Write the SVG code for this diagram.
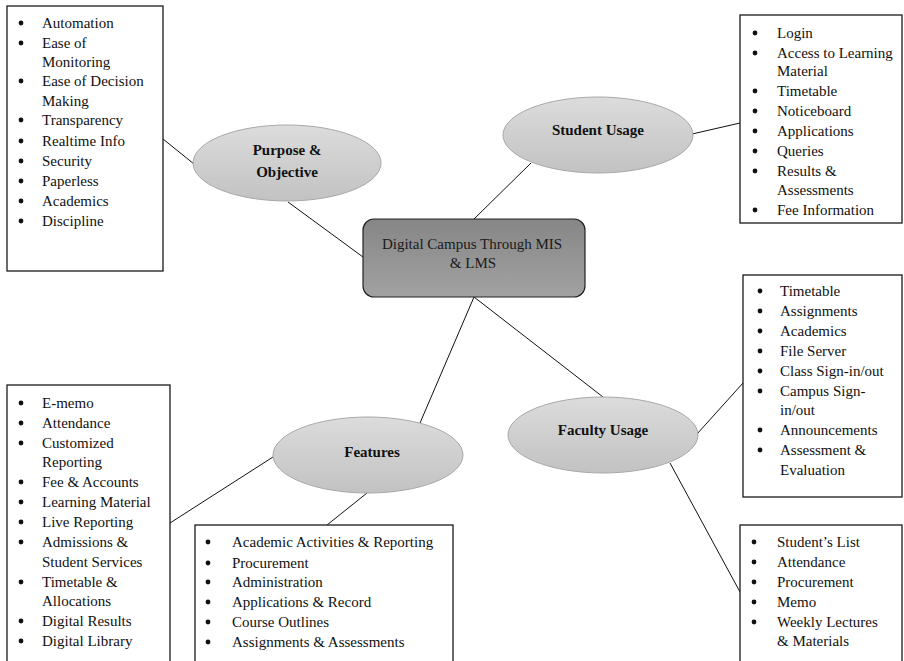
<svg xmlns="http://www.w3.org/2000/svg" width="904" height="661" viewBox="0 0 904 661">
<defs>
<linearGradient id="gEll" x1="0" y1="0" x2="0" y2="1">
<stop offset="0" stop-color="#dcdcdc"/>
<stop offset="1" stop-color="#c2c2c2"/>
</linearGradient>
<linearGradient id="gCen" x1="0" y1="0" x2="0" y2="1">
<stop offset="0" stop-color="#868686"/>
<stop offset="1" stop-color="#a2a2a2"/>
</linearGradient>
</defs>
<style>
.box{fill:#fff;stroke:#1a1a1a;stroke-width:1.3}
.ell{fill:url(#gEll);stroke:#a8a8a8;stroke-width:1}
.cen{fill:url(#gCen);stroke:#222;stroke-width:1.2}
.t{font-family:"Liberation Serif","Times New Roman",serif;font-size:15px;fill:#111}
.bu circle{fill:#111}
.b{font-family:"Liberation Serif","Times New Roman",serif;font-size:15px;font-weight:bold;fill:#111;text-anchor:middle}
.c{font-family:"Liberation Serif","Times New Roman",serif;font-size:15px;fill:#1a1a1a;text-anchor:middle}
.con{stroke:#111;stroke-width:1;fill:none}
</style>
<rect width="904" height="661" fill="#fff"/>
<g id="connectors">
<line class="con" x1="163" y1="139" x2="194" y2="164"/>
<line class="con" x1="288" y1="202" x2="363" y2="257"/>
<line class="con" x1="474" y1="219" x2="531" y2="163"/>
<line class="con" x1="692" y1="134" x2="740" y2="123"/>
<line class="con" x1="474" y1="297" x2="420" y2="423"/>
<line class="con" x1="474" y1="297" x2="603" y2="397"/>
<line class="con" x1="697" y1="434" x2="743" y2="383"/>
<line class="con" x1="670" y1="463" x2="740" y2="592"/>
<line class="con" x1="170" y1="523" x2="273" y2="457"/>
<line class="con" x1="367" y1="493" x2="327" y2="525"/>
</g>
<g id="center">
<rect class="cen" x="363" y="219" width="222" height="78" rx="11"/>
<text class="c" x="472" y="249">Digital Campus Through MIS</text>
<text class="c" x="473" y="268">&amp; LMS</text>
</g>
<g id="purpose">
<ellipse class="ell" cx="287" cy="163" rx="94" ry="38"/>
<text class="b" x="287" y="155">Purpose &amp;</text>
<text class="b" x="287" y="177">Objective</text>
</g>
<g id="student">
<ellipse class="ell" cx="598" cy="135" rx="95" ry="38"/>
<text class="b" x="598" y="135">Student Usage</text>
</g>
<g id="faculty">
<ellipse class="ell" cx="603" cy="435" rx="95" ry="38"/>
<text class="b" x="603" y="435">Faculty Usage</text>
</g>
<g id="features">
<ellipse class="ell" cx="368" cy="455" rx="95" ry="38"/>
<text class="b" x="372" y="457">Features</text>
</g>
<g id="purpose-list">
<rect class="box" x="7" y="6" width="156" height="265"/>
<g class="bu">
<circle cx="21" cy="23" r="2.4"/><circle cx="21" cy="43" r="2.4"/><circle cx="21" cy="81" r="2.4"/><circle cx="21" cy="120" r="2.4"/><circle cx="21" cy="141" r="2.4"/><circle cx="21" cy="161" r="2.4"/><circle cx="21" cy="181" r="2.4"/><circle cx="21" cy="201" r="2.4"/><circle cx="21" cy="221" r="2.4"/>
</g>
<g class="t">
<text x="42" y="28">Automation</text>
<text x="42" y="48">Ease of</text>
<text x="42" y="67">Monitoring</text>
<text x="42" y="86">Ease of Decision</text>
<text x="42" y="106">Making</text>
<text x="42" y="125">Transparency</text>
<text x="42" y="146">Realtime Info</text>
<text x="42" y="166">Security</text>
<text x="42" y="186">Paperless</text>
<text x="42" y="206">Academics</text>
<text x="42" y="226">Discipline</text>
</g>
</g>
<g id="student-list">
<rect class="box" x="740" y="15" width="162" height="208"/>
<g class="bu">
<circle cx="755" cy="33" r="2.4"/><circle cx="755" cy="53" r="2.4"/><circle cx="755" cy="91" r="2.4"/><circle cx="755" cy="111" r="2.4"/><circle cx="755" cy="131" r="2.4"/><circle cx="755" cy="151" r="2.4"/><circle cx="755" cy="171" r="2.4"/><circle cx="755" cy="210" r="2.4"/>
</g>
<g class="t">
<text x="777" y="38">Login</text>
<text x="777" y="58">Access to Learning</text>
<text x="777" y="76">Material</text>
<text x="777" y="96">Timetable</text>
<text x="777" y="116">Noticeboard</text>
<text x="777" y="136">Applications</text>
<text x="777" y="156">Queries</text>
<text x="777" y="176">Results &amp;</text>
<text x="777" y="195">Assessments</text>
<text x="777" y="215">Fee Information</text>
</g>
</g>
<g id="faculty-list">
<rect class="box" x="743" y="275" width="159" height="222"/>
<g class="bu">
<circle cx="760" cy="291" r="2.4"/><circle cx="760" cy="311" r="2.4"/><circle cx="760" cy="331" r="2.4"/><circle cx="760" cy="351" r="2.4"/><circle cx="760" cy="371" r="2.4"/><circle cx="760" cy="391" r="2.4"/><circle cx="760" cy="430" r="2.4"/><circle cx="760" cy="450" r="2.4"/>
</g>
<g class="t">
<text x="780" y="296">Timetable</text>
<text x="780" y="316">Assignments</text>
<text x="780" y="336">Academics</text>
<text x="780" y="356">File Server</text>
<text x="780" y="376">Class Sign-in/out</text>
<text x="780" y="396">Campus Sign-</text>
<text x="780" y="415">in/out</text>
<text x="780" y="435">Announcements</text>
<text x="780" y="455">Assessment &amp;</text>
<text x="780" y="475">Evaluation</text>
</g>
</g>
<g id="faculty-list2">
<rect class="box" x="740" y="525" width="162" height="160"/>
<g class="bu">
<circle cx="754" cy="542" r="2.4"/><circle cx="754" cy="562" r="2.4"/><circle cx="754" cy="582" r="2.4"/><circle cx="754" cy="602" r="2.4"/><circle cx="754" cy="622" r="2.4"/>
</g>
<g class="t">
<text x="777" y="547">Student’s List</text>
<text x="777" y="567">Attendance</text>
<text x="777" y="587">Procurement</text>
<text x="777" y="607">Memo</text>
<text x="777" y="627">Weekly Lectures</text>
<text x="777" y="646">&amp; Materials</text>
</g>
</g>
<g id="features-list1">
<rect class="box" x="7" y="385" width="163" height="300"/>
<g class="bu">
<circle cx="21" cy="403" r="2.4"/><circle cx="21" cy="423" r="2.4"/><circle cx="21" cy="443" r="2.4"/><circle cx="21" cy="482" r="2.4"/><circle cx="21" cy="502" r="2.4"/><circle cx="21" cy="522" r="2.4"/><circle cx="21" cy="542" r="2.4"/><circle cx="21" cy="582" r="2.4"/><circle cx="21" cy="621" r="2.4"/><circle cx="21" cy="641" r="2.4"/>
</g>
<g class="t">
<text x="42" y="408">E-memo</text>
<text x="42" y="428">Attendance</text>
<text x="42" y="448">Customized</text>
<text x="42" y="467">Reporting</text>
<text x="42" y="487">Fee &amp; Accounts</text>
<text x="42" y="507">Learning Material</text>
<text x="42" y="527">Live Reporting</text>
<text x="42" y="547">Admissions &amp;</text>
<text x="42" y="567">Student Services</text>
<text x="42" y="587">Timetable &amp;</text>
<text x="42" y="606">Allocations</text>
<text x="42" y="626">Digital Results</text>
<text x="42" y="646">Digital Library</text>
</g>
</g>
<g id="features-list2">
<rect class="box" x="195" y="525" width="258" height="160"/>
<g class="bu">
<circle cx="208" cy="542" r="2.4"/><circle cx="208" cy="563" r="2.4"/><circle cx="208" cy="582" r="2.4"/><circle cx="208" cy="602" r="2.4"/><circle cx="208" cy="622" r="2.4"/><circle cx="208" cy="642" r="2.4"/>
</g>
<g class="t">
<text x="232" y="547">Academic Activities &amp; Reporting</text>
<text x="232" y="568">Procurement</text>
<text x="232" y="587">Administration</text>
<text x="232" y="607">Applications &amp; Record</text>
<text x="232" y="627">Course Outlines</text>
<text x="232" y="647">Assignments &amp; Assessments</text>
</g>
</g>
</svg>
